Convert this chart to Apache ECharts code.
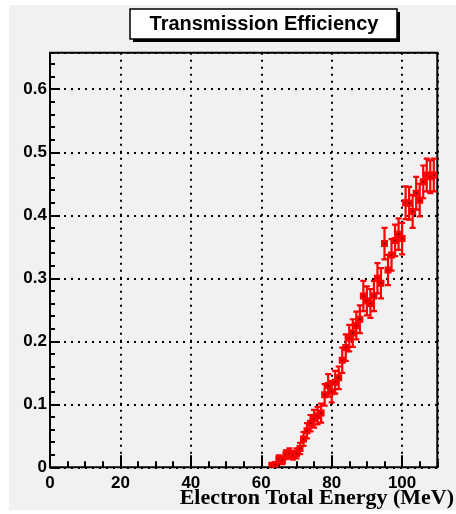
<!DOCTYPE html>
<html>
<head>
<meta charset="utf-8">
<script src="https://cdn.jsdelivr.net/npm/echarts@6/dist/echarts.min.js"></script>
<style>
  html, body { margin: 0; padding: 0; background: #ffffff; }
  #chart { width: 456px; height: 514px; }
</style>
</head>
<body>
<div id="chart"></div>
<script>
// Electron total energy bins (MeV)
const energy = [63, 64, 65, 66, 67, 68, 69, 70, 71, 72, 73, 74, 75, 76, 77, 78, 79, 80, 81, 82,
  83, 84, 85, 86, 87, 88, 89, 90, 91, 92, 93, 94, 95, 96, 97, 98, 99, 100, 101, 102,
  103, 104, 105, 106, 107, 108, 109];
// Measured transmission efficiency per bin
const efficiency = [0.003, 0.004, 0.013, 0.011, 0.020, 0.022, 0.019, 0.022, 0.030, 0.045,
  0.058, 0.070, 0.077, 0.082, 0.086, 0.115, 0.130, 0.120, 0.135, 0.142,
  0.170, 0.190, 0.205, 0.213, 0.225, 0.235, 0.272, 0.264, 0.260, 0.272,
  0.300, 0.292, 0.355, 0.313, 0.337, 0.360, 0.370, 0.363, 0.420, 0.419,
  0.406, 0.435, 0.424, 0.453, 0.464, 0.461, 0.464];
// Statistical uncertainty per bin
const uncertainty = [0.004, 0.004, 0.006, 0.006, 0.007, 0.008, 0.007, 0.008, 0.009, 0.011,
  0.012, 0.013, 0.014, 0.014, 0.015, 0.017, 0.018, 0.017, 0.018, 0.018,
  0.020, 0.021, 0.021, 0.022, 0.022, 0.022, 0.024, 0.023, 0.023, 0.024,
  0.024, 0.024, 0.025, 0.024, 0.025, 0.025, 0.025, 0.025, 0.026, 0.026,
  0.026, 0.026, 0.026, 0.026, 0.026, 0.026, 0.026];
// Axis tick labels
const xTickLabels = ['0', '20', '40', '60', '80', '100'];
const yTickLabels = ['0', '0.1', '0.2', '0.3', '0.4', '0.5', '0.6'];

const titleText = 'Transmission Efficiency';
const xTitle = 'Electron Total Energy (MeV)';

const points = energy.map((e, i) => [e, efficiency[i], uncertainty[i]]);

const X_MAX = 110, Y_MAX = 0.658;
const labelFont = { fontFamily: 'Liberation Sans', fontWeight: 'bold', fontSize: 17, color: '#000' };

function xLabel(v) {
  const s = String(Math.round(v));
  return xTickLabels.indexOf(s) >= 0 && Math.abs(v - Math.round(v)) < 1e-6 ? s : '';
}
function yLabel(v) {
  const s = String(Math.round(v * 10) / 10);
  return Math.abs(v * 10 - Math.round(v * 10)) < 1e-6 && yTickLabels.indexOf(s) >= 0 ? s : '';
}

const chart = echarts.init(document.getElementById('chart'), null, { renderer: 'canvas' });

chart.setOption({
  animation: false,
  backgroundColor: '#ffffff',
  graphic: [
    { type: 'rect', z: -10, shape: { x: 9, y: 5, width: 447, height: 505 }, style: { fill: '#f1f1f1' }, silent: true },
    { type: 'rect', z: 10, shape: { x: 133, y: 12, width: 267, height: 30 }, style: { fill: '#000' } },
    { type: 'rect', z: 11, shape: { x: 130, y: 9, width: 267, height: 30 }, style: { fill: '#ffffff', stroke: '#000', lineWidth: 1.5 } },
    { type: 'text', z: 12, x: 264, y: 24, style: { text: titleText, fontFamily: 'Liberation Sans', fontWeight: 'bold', fontSize: 20, fill: '#000', align: 'center', verticalAlign: 'middle' } },
    { type: 'text', z: 12, x: 454, y: 498, style: { text: xTitle, fontFamily: 'Liberation Serif', fontWeight: 'bold', fontSize: 22, fill: '#000', align: 'right', verticalAlign: 'middle' } }
  ],
  grid: {
    left: 50, top: 52.7, right: 18.7, bottom: 46.7,
    show: true, borderColor: '#000', borderWidth: 2, backgroundColor: '#f1f1f1'
  },
  xAxis: [
    {
      type: 'value', min: 0, max: X_MAX, interval: 20,
      axisLine: { show: false },
      axisTick: { show: true, inside: true, length: 12, lineStyle: { color: '#000', width: 2 } },
      axisLabel: Object.assign({ margin: 8, formatter: xLabel, showMaxLabel: false }, labelFont),
      splitLine: { show: true, lineStyle: { color: '#000', width: 2, type: [2, 5] } }
    },
    {
      type: 'value', min: 0, max: X_MAX, interval: 5, position: 'bottom',
      axisLine: { show: false },
      axisTick: { show: true, inside: true, length: 6, lineStyle: { color: '#000', width: 2 } },
      axisLabel: { show: false },
      splitLine: { show: false }
    }
  ],
  yAxis: [
    {
      type: 'value', min: 0, max: Y_MAX, interval: 0.1,
      axisLine: { show: false },
      axisTick: { show: true, inside: true, length: 10, lineStyle: { color: '#000', width: 2 } },
      axisLabel: Object.assign({ margin: 3, formatter: yLabel, showMaxLabel: false }, labelFont),
      splitLine: { show: true, lineStyle: { color: '#000', width: 2, type: [2, 5] } }
    },
    {
      type: 'value', min: 0, max: Y_MAX, interval: 0.02, position: 'left',
      axisLine: { show: false },
      axisTick: { show: true, inside: true, length: 5, lineStyle: { color: '#000', width: 2 } },
      axisLabel: { show: false },
      splitLine: { show: false }
    }
  ],
  series: [{
    type: 'custom',
    xAxisIndex: 0, yAxisIndex: 0,
    data: points,
    encode: { x: 0, y: 1 },
    clip: true,
    z: 5,
    renderItem: function (params, api) {
      const x = api.value(0), y = api.value(1), e = api.value(2);
      const c = api.coord([x, y]);
      const t = api.coord([x, y + e]);
      const b = api.coord([x, Math.max(0, y - e)]);
      const red = '#ff0000';
      const ls = { stroke: red, lineWidth: 2.2 };
      return {
        type: 'group',
        children: [
          { type: 'line', shape: { x1: c[0], y1: t[1], x2: c[0], y2: b[1] }, style: ls },
          { type: 'line', shape: { x1: c[0] - 3, y1: t[1], x2: c[0] + 3, y2: t[1] }, style: ls },
          { type: 'line', shape: { x1: c[0] - 3, y1: b[1], x2: c[0] + 3, y2: b[1] }, style: ls },
          { type: 'rect', shape: { x: c[0] - 3.5, y: c[1] - 3.5, width: 7, height: 7 }, style: { fill: red } },
          { type: 'rect', shape: { x: c[0] - 0.75, y: c[1] - 0.75, width: 1.5, height: 1.5 }, style: { fill: '#5a0000' } }
        ]
      };
    }
  }]
});
</script>
</body>
</html>
